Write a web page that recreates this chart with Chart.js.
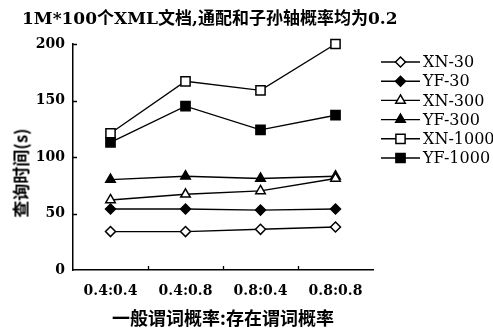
<!DOCTYPE html>
<html>
<head>
<meta charset="utf-8">
<script src="https://cdn.jsdelivr.net/npm/chart.js@4.4.1/dist/chart.umd.min.js"></script>
<style>
  html, body { margin: 0; padding: 0; background: #fff; }
  #wrap { position: relative; width: 493px; height: 331px; overflow: hidden; background: #fff; }
  #chart { position: absolute; left: 0; top: 0; }
  #title {
    position: absolute; left: 22px; top: 4px; white-space: nowrap;
    font: bold 17px "DejaVu Serif", "Noto Sans CJK SC", serif; color: #000;
  }
  #ytitle {
    position: absolute; left: 20px; top: 173px; white-space: nowrap;
    transform: translate(-50%, -50%) rotate(-90deg);
    font: bold 17px "Noto Sans CJK SC", sans-serif; color: #000;
  }
</style>
</head>
<body>
<div id="wrap">
  <canvas id="chart" width="493" height="331"></canvas>
  <div id="title">1M*100个XML文档,通配和子孙轴概率均为0.2</div>
  <div id="ytitle">查询时间(s)</div>
</div>
<script>
// Category labels (general predicate probability : existence predicate probability)
const categories = ['0.4:0.4', '0.4:0.8', '0.8:0.4', '0.8:0.8'];

// Query time in seconds for each method / document size
const xn30   = [34, 34, 36, 38];
const yf30   = [54, 54, 53, 54];
const xn300  = [62, 67, 70, 81];
const yf300  = [80, 83, 81, 83];
const xn1000 = [121, 167, 159, 200];
const yf1000 = [113, 145, 124, 137];

const yTicks = [0, 50, 100, 150, 200];

const seriesNames = ['XN-30', 'YF-30', 'XN-300', 'YF-300', 'XN-1000', 'YF-1000'];
const seriesData  = [xn30, yf30, xn300, yf300, xn1000, yf1000];
const seriesStyle = [
  { shape: 'rectRot',  filled: false, r: 5 },
  { shape: 'rectRot',  filled: true,  r: 5 },
  { shape: 'triangle', filled: false, r: 5.5 },
  { shape: 'triangle', filled: true,  r: 5.5 },
  { shape: 'rect',     filled: false, r: 6.5 },
  { shape: 'rect',     filled: true,  r: 6.5 }
];

const datasets = seriesNames.map((name, i) => ({
  label: name,
  data: seriesData[i],
  borderColor: '#000',
  borderWidth: 1.4,
  tension: 0,
  fill: false,
  clip: false,
  pointStyle: seriesStyle[i].shape,
  pointRadius: seriesStyle[i].r,
  pointHoverRadius: seriesStyle[i].r,
  pointBorderWidth: 1.5,
  pointBorderColor: '#000',
  pointBackgroundColor: seriesStyle[i].filled ? '#000' : '#fff'
}));

// Short inward tick marks on both axes
const innerTicks = {
  id: 'innerTicks',
  afterDraw(chart) {
    const { ctx, chartArea, scales } = chart;
    ctx.save();
    ctx.strokeStyle = '#000';
    ctx.lineWidth = 1.3;
    ctx.beginPath();
    yTicks.forEach(v => {
      if (v === 0) return;
      const y = Math.round(scales.y.getPixelForValue(v)) + 0.5;
      ctx.moveTo(chartArea.left, y);
      ctx.lineTo(chartArea.left + 4, y);
    });
    for (let i = 0; i < categories.length - 1; i++) {
      const x = Math.round((scales.x.getPixelForValue(i) + scales.x.getPixelForValue(i + 1)) / 2) + 0.5;
      ctx.moveTo(x, chartArea.bottom);
      ctx.lineTo(x, chartArea.bottom - 4);
    }
    ctx.stroke();
    ctx.restore();
  }
};

// Legend drawn as line + marker + label, to the right of the plot
const lineLegend = {
  id: 'lineLegend',
  afterDraw(chart) {
    const { ctx, chartArea } = chart;
    const x0 = chartArea.right + 8, x1 = chartArea.right + 47, xm = (x0 + x1) / 2;
    const tx = chartArea.right + 50;
    ctx.save();
    ctx.font = '16px "DejaVu Serif", serif';
    ctx.textBaseline = 'middle';
    ctx.textAlign = 'left';
    chart.data.datasets.forEach((ds, i) => {
      const y = chartArea.top + 18 + i * 19.2;
      ctx.strokeStyle = '#000';
      ctx.lineWidth = 1.4;
      ctx.beginPath();
      ctx.moveTo(x0, y);
      ctx.lineTo(x1, y);
      ctx.stroke();
      ctx.fillStyle = ds.pointBackgroundColor;
      ctx.strokeStyle = '#000';
      ctx.lineWidth = ds.pointBorderWidth;
      Chart.helpers.drawPoint(ctx, {
        pointStyle: ds.pointStyle,
        radius: ds.pointRadius,
        rotation: 0,
        borderWidth: ds.pointBorderWidth
      }, xm, y);
      ctx.fillStyle = '#000';
      ctx.fillText(ds.label, tx, y + 1);
    });
    ctx.restore();
  }
};

new Chart(document.getElementById('chart'), {
  type: 'line',
  data: { labels: categories, datasets },
  options: {
    responsive: false,
    devicePixelRatio: 1,
    animation: false,
    events: [],
    layout: { padding: { top: 44, right: 120, left: 0, bottom: 0 } },
    plugins: {
      legend: { display: false },
      tooltip: { enabled: false },
      title: { display: false }
    },
    scales: {
      x: {
        offset: true,
        grid: { display: false, drawTicks: false },
        border: { display: true, color: '#000', width: 1.5 },
        ticks: {
          color: '#000',
          padding: 13,
          maxRotation: 0,
          font: { family: '"DejaVu Serif", serif', size: 14, weight: 'bold' }
        },
        title: {
          display: true,
          text: '一般谓词概率:存在谓词概率',
          color: '#000',
          padding: { top: 0, bottom: 2 },
          font: { family: '"Noto Sans CJK SC", sans-serif', size: 18, weight: 'bold' }
        },
        afterFit(scale) { scale.height = 61; }
      },
      y: {
        min: 0,
        max: 200,
        afterBuildTicks(scale) { scale.ticks = yTicks.map(v => ({ value: v })); },
        grid: { display: false, drawTicks: false },
        border: { display: true, color: '#000', width: 1.5 },
        ticks: {
          color: '#000',
          padding: 8,
          font: { family: '"DejaVu Serif", serif', size: 14, weight: 'bold' }
        },
        afterFit(scale) { scale.width = 73; }
      }
    }
  },
  plugins: [innerTicks, lineLegend]
});
</script>
</body>
</html>
